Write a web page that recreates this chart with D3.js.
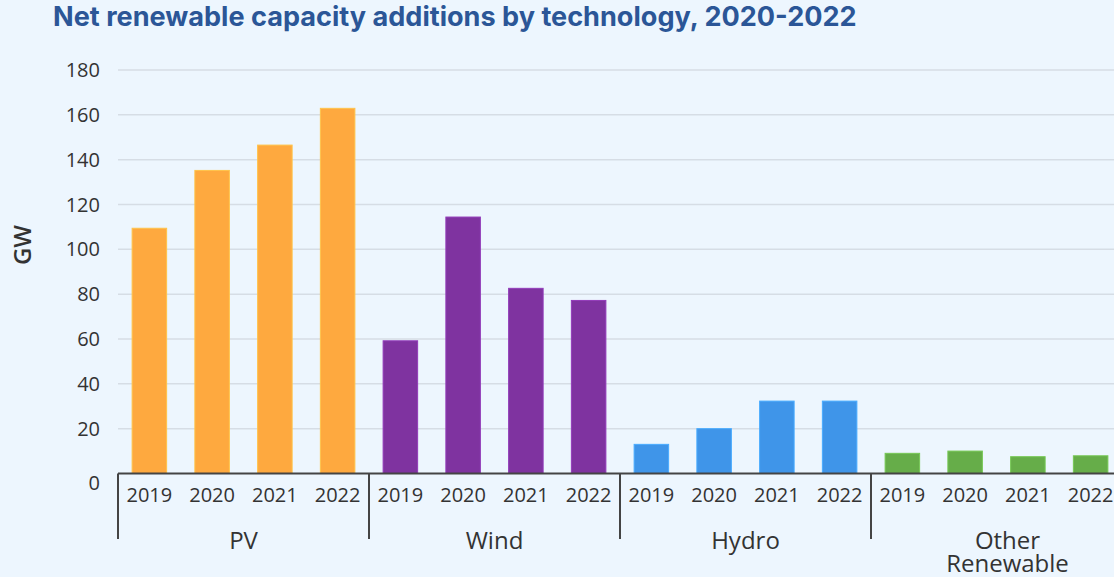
<!DOCTYPE html>
<html>
<head>
<meta charset="utf-8">
<script src="https://cdn.jsdelivr.net/npm/d3@7"></script>
<style>
  html, body { margin: 0; padding: 0; background: #edf6fe; }
  svg { display: block; }
  text { font-family: "Open Sans", "Noto Sans", sans-serif; }
</style>
</head>
<body>
<svg id="chart" width="1114" height="577"></svg>
<script>
// Net renewable capacity additions (GW)
const technologies = ["PV", "Wind", "Hydro", "Other Renewable"];
const years = ["2019", "2020", "2021", "2022"];
const pvValues = [109.4, 135.2, 146.5, 162.9];
const windValues = [59.2, 114.4, 82.6, 77.2];
const hydroValues = [13.0, 20.0, 32.3, 32.3];
const otherValues = [9.0, 10.0, 7.5, 7.9];
const techColors = ["#fea93f", "#7f33a0", "#3f95e9", "#66ad49"];
const yTicks = [0, 20, 40, 60, 80, 100, 120, 140, 160, 180];

const seriesByTech = [pvValues, windValues, hydroValues, otherValues];

const svg = d3.select("#chart");
const W = 1114, H = 577;
const margin = { left: 118, top: 70, bottom: 473.5 };
const groupWidth = 251;

const xGroup = d3.scaleBand()
  .domain(technologies)
  .range([margin.left, margin.left + groupWidth * technologies.length])
  .padding(0);

const xYear = d3.scaleBand()
  .domain(years)
  .range([0, xGroup.bandwidth()])
  .paddingInner(0.45)
  .paddingOuter(0.225);

const y = d3.scaleLinear()
  .domain([0, 180])
  .range([margin.bottom, margin.top]);

// Title
const title = svg.append("text")
  .attr("x", 53)
  .attr("y", 26)
  .attr("fill", "#2b5697")
  .style("font-family", "Inter, 'Open Sans', sans-serif")
  .style("font-weight", 700)
  .style("font-size", "23px")
  .text("Net renewable capacity additions by technology, 2020-2022");
// fit the title to its line width
const tw = title.node().getComputedTextLength();
title.style("font-size", (23 * 804 / tw).toFixed(2) + "px");

// Grid lines
svg.append("g")
  .selectAll("line")
  .data(yTicks.filter(d => d > 0))
  .join("line")
  .attr("x1", margin.left)
  .attr("x2", W)
  .attr("y1", d => y(d))
  .attr("y2", d => y(d))
  .attr("stroke", "#d6dde5")
  .attr("stroke-width", 1.5);

// Y tick labels
svg.append("g")
  .selectAll("text")
  .data(yTicks)
  .join("text")
  .attr("x", 100)
  .attr("y", d => y(d) + (d === 0 ? 16 : 7))
  .attr("text-anchor", "end")
  .attr("fill", "#333")
  .style("font-size", "20px")
  .text(d => d);

// Y axis title
svg.append("text")
  .attr("transform", "translate(31,245) rotate(-90)")
  .attr("text-anchor", "middle")
  .attr("fill", "#333")
  .style("font-size", "24px")
  .style("font-weight", 600)
  .text("GW");

// Bars
const groups = svg.append("g")
  .selectAll("g")
  .data(technologies)
  .join("g")
  .attr("transform", d => `translate(${xGroup(d)},0)`);

groups.each(function (tech, ti) {
  d3.select(this)
    .selectAll("rect")
    .data(seriesByTech[ti].map((v, i) => ({ year: years[i], value: v })))
    .join("rect")
    .attr("x", d => xYear(d.year))
    .attr("width", xYear.bandwidth())
    .attr("y", d => y(d.value))
    .attr("height", d => y(0) - y(d.value))
    .attr("fill", techColors[ti])
    .attr("stroke", d3.color(techColors[ti]).brighter(0.4))
    .attr("stroke-width", 1);

  // Year labels
  d3.select(this)
    .selectAll("text.year")
    .data(years)
    .join("text")
    .attr("class", "year")
    .attr("x", d => xYear(d) + xYear.bandwidth() / 2)
    .attr("y", 502)
    .attr("text-anchor", "middle")
    .attr("fill", "#333")
    .style("font-size", "20px")
    .text(d => d);
});

// Axis baseline
svg.append("line")
  .attr("x1", margin.left)
  .attr("x2", W)
  .attr("y1", y(0))
  .attr("y2", y(0))
  .attr("stroke", "#444")
  .attr("stroke-width", 2);

// Group separators
svg.append("g")
  .selectAll("line")
  .data(technologies)
  .join("line")
  .attr("x1", d => xGroup(d))
  .attr("x2", d => xGroup(d))
  .attr("y1", y(0))
  .attr("y2", 539)
  .attr("stroke", "#444")
  .attr("stroke-width", 2);

// Group labels
svg.append("g")
  .selectAll("text")
  .data(technologies)
  .join("text")
  .attr("x", d => xGroup(d) + xGroup.bandwidth() / 2 + (d === "Other Renewable" ? 11 : 0))
  .attr("y", 549)
  .attr("text-anchor", "middle")
  .attr("fill", "#333")
  .style("font-size", "24px")
  .each(function (d) {
    const words = d === "Other Renewable" ? ["Other", "Renewable"] : [d];
    const t = d3.select(this);
    words.forEach((w, i) => {
      t.append("tspan")
        .attr("x", t.attr("x"))
        .attr("dy", i === 0 ? 0 : 23)
        .text(w);
    });
  });
</script>
</body>
</html>
